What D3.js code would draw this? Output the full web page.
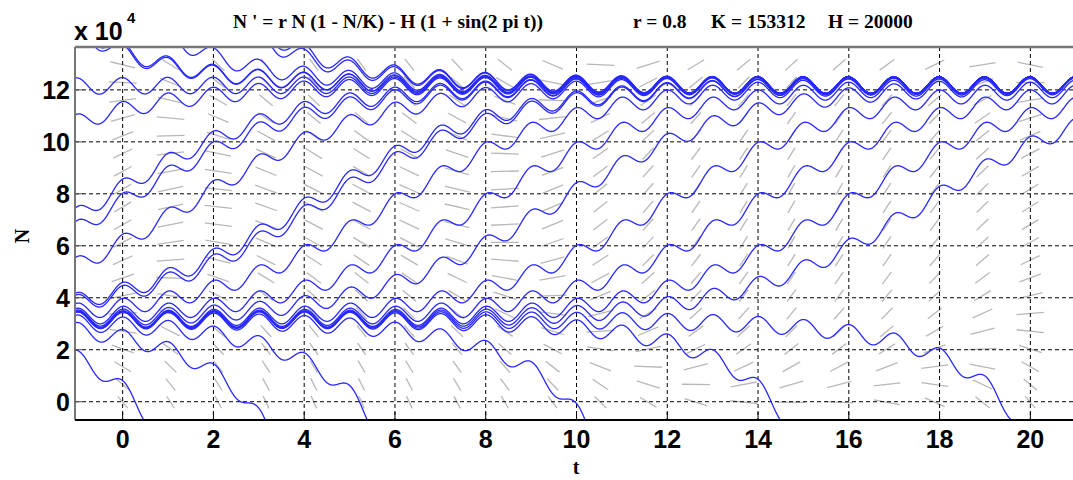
<!DOCTYPE html>
<html><head><meta charset="utf-8">
<script src="https://cdn.jsdelivr.net/npm/d3@7"></script>
<style>body{margin:0;background:#fff;overflow:hidden}</style>
</head><body>
<svg id="c" width="1073" height="480"></svg>
<script>
// ODE parameters (from the title)
const r = 0.8, K = 153312, H = 20000;
// window
const tRange = [-1.05, 21.05];
const nRange = [-7040, 136500];
// ticks
const xTicks = [0, 2, 4, 6, 8, 10, 12, 14, 16, 18, 20];
const yTicks = [0, 20000, 40000, 60000, 80000, 100000, 120000];
const yTickLabels = ["0", "2", "4", "6", "8", "10", "12"];
// solution curves: one point (t, N)
const curveT = [-0.45, 0.49, 1.53, -1.05, -1.05, 3.54, 4.35,
                -1.05, -1.05, -1.05, 4.02, 4.85, 6.0, 8.0, 9.8, 12.0, 14.0, 16.0, 19.6,
                -1.05, 2.6, 5.39, 10.19, 14.49, 19.58];
const curveN = [136200, 128300, 133300, 124500, 110300, 135300, 128700,
                74400, 69100, 55300, 75600, 86000, 80000, 80000, 80000, 80000, 80000, 80000, 93000,
                19900, 0, -7040, -7040, -7040, -7040];

const svg = d3.select("#c");
const L = 75, R = 1078, T = 47, B = 420;
const x = d3.scaleLinear().domain(tRange).range([L, R]);
const y = d3.scaleLinear().domain(nRange).range([B, T]);

svg.append("defs").append("clipPath").attr("id", "clip")
  .append("rect").attr("x", L).attr("y", T).attr("width", R - L).attr("height", B - T);

const f = (t, N) => r * N * (1 - N / K) - H * (1 + Math.sin(2 * Math.PI * t));

// direction field
const nCols = 21, nRows = 21;
const field = svg.append("g").attr("clip-path", "url(#clip)");
const sx = (x(1) - x(0)), sy = (y(0) - y(1));
for (let i = 1; i < nCols; i++) {
  const t = tRange[0] + i * (tRange[1] - tRange[0]) / nCols;
  for (let j = 1; j < nRows; j++) {
    const N = nRange[0] + j * (nRange[1] - nRange[0]) / nRows;
    const s = f(t, N);
    const ang = Math.atan2(s * sy, sx);
    const c = Math.cos(ang), si = Math.sin(ang);
    const len = 1 / Math.sqrt((c / 28) ** 2 + (si / 12.5) ** 2);
    const cx = x(t), cy = y(N);
    field.append("line")
      .attr("x1", cx - c * len / 2).attr("y1", cy + si * len / 2)
      .attr("x2", cx + c * len / 2).attr("y2", cy - si * len / 2)
      .attr("stroke", "#b8b8b8").attr("stroke-width", 1.3);
  }
}

// grid
const grid = svg.append("g");
xTicks.forEach(v => grid.append("line").attr("x1", x(v)).attr("x2", x(v)).attr("y1", T).attr("y2", B)
  .attr("stroke", "#000").attr("stroke-width", 1).attr("stroke-dasharray", "4,3"));
yTicks.forEach(v => grid.append("line").attr("x1", L).attr("x2", R).attr("y1", y(v)).attr("y2", y(v))
  .attr("stroke", "#000").attr("stroke-width", 1).attr("stroke-dasharray", "4,3"));

// solution curves
function integrate(t0, N0, dir) {
  const pts = [];
  let t = t0, N = N0;
  const h = 0.004 * dir;
  pts.push([t, N]);
  while (t >= tRange[0] - 0.05 && t <= tRange[1] + 0.05 && N > -30000 && N < 160000) {
    const k1 = f(t, N);
    const k2 = f(t + h / 2, N + h / 2 * k1);
    const k3 = f(t + h / 2, N + h / 2 * k2);
    const k4 = f(t + h, N + h * k3);
    N += h / 6 * (k1 + 2 * k2 + 2 * k3 + k4);
    t += h;
    pts.push([t, N]);
  }
  return pts;
}
const curves = svg.append("g").attr("clip-path", "url(#clip)");
const line = d3.line().x(d => x(d[0])).y(d => y(d[1]));
curveT.forEach((t0, i) => {
  const back = integrate(t0, curveN[i], -1).reverse();
  const fwd = integrate(t0, curveN[i], 1).slice(1);
  curves.append("path").attr("d", line(back.concat(fwd)))
    .attr("fill", "none").attr("stroke", "#2828ff").attr("stroke-width", 1.3);
});

// axes frame
svg.append("line").attr("x1", L).attr("x2", R).attr("y1", T).attr("y2", T).attr("stroke", "#777").attr("stroke-width", 2.5);
svg.append("line").attr("x1", L).attr("x2", L).attr("y1", T).attr("y2", B).attr("stroke", "#777").attr("stroke-width", 2);
svg.append("line").attr("x1", L).attr("x2", R).attr("y1", B).attr("y2", B).attr("stroke", "#000").attr("stroke-width", 2);
xTicks.forEach(v => svg.append("line").attr("x1", x(v)).attr("x2", x(v)).attr("y1", B).attr("y2", B - 8)
  .attr("stroke", "#000").attr("stroke-width", 1));
yTicks.forEach(v => svg.append("line").attr("x1", L).attr("x2", L + 8).attr("y1", y(v)).attr("y2", y(v))
  .attr("stroke", "#555").attr("stroke-width", 1));

const sans = "'Liberation Sans', Arial, sans-serif";
const serif = "'Liberation Serif', 'Times New Roman', serif";
xTicks.forEach(v => svg.append("text").attr("x", x(v)).attr("y", 448).attr("text-anchor", "middle")
  .attr("font-family", sans).attr("font-weight", "bold").attr("font-size", 25).text(String(v)));
yTicks.forEach((v, i) => svg.append("text").attr("x", 70).attr("y", y(v) + 9).attr("text-anchor", "end")
  .attr("font-family", sans).attr("font-weight", "bold").attr("font-size", 25).text(yTickLabels[i]));

svg.append("text").attr("x", 74).attr("y", 40).attr("font-family", sans).attr("font-weight", "bold")
  .attr("font-size", 25).text("x 10");
svg.append("text").attr("x", 127).attr("y", 23).attr("font-family", sans).attr("font-weight", "bold")
  .attr("font-size", 15).text("4");

svg.append("text").attr("x", 233).attr("y", 28).attr("font-family", serif).attr("font-weight", "bold")
  .attr("font-size", 19.5).text("N ' = r N (1 - N/K) - H (1 + sin(2 pi t))");
svg.append("text").attr("x", 633).attr("y", 28).attr("font-family", serif).attr("font-weight", "bold")
  .attr("font-size", 19.5).text("r = 0.8");
svg.append("text").attr("x", 711).attr("y", 28).attr("font-family", serif).attr("font-weight", "bold")
  .attr("font-size", 19.5).text("K = 153312");
svg.append("text").attr("x", 828).attr("y", 28).attr("font-family", serif).attr("font-weight", "bold")
  .attr("font-size", 19.5).text("H = 20000");

svg.append("text").attr("transform", "translate(29,236) rotate(-90)").attr("text-anchor", "middle")
  .attr("font-family", serif).attr("font-weight", "bold").attr("font-size", 20).text("N");
svg.append("text").attr("x", 576).attr("y", 474).attr("text-anchor", "middle")
  .attr("font-family", serif).attr("font-weight", "bold").attr("font-size", 20).text("t");
</script>
</body></html>
